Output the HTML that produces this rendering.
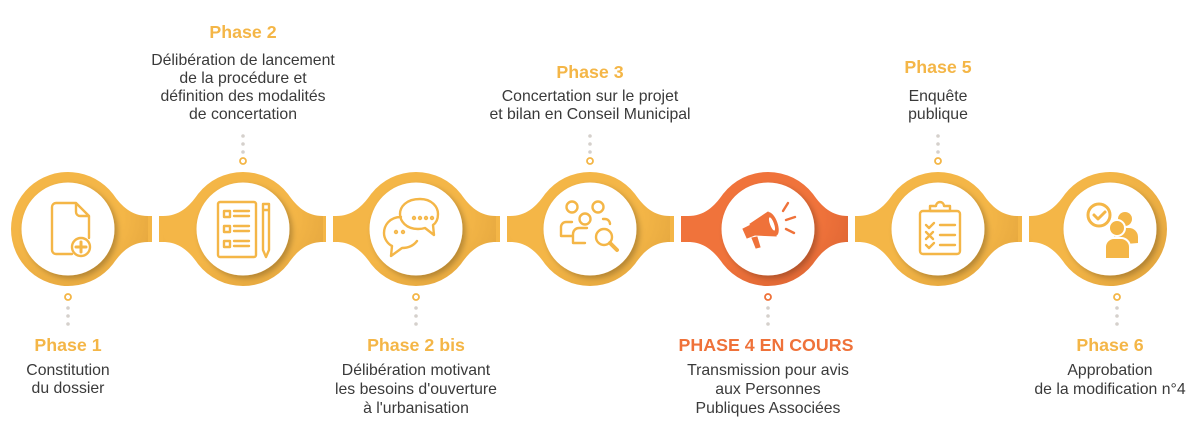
<!DOCTYPE html>
<html><head><meta charset="utf-8"><style>
html,body{margin:0;padding:0;background:#fff;width:1200px;height:437px;overflow:hidden}
svg{display:block}
text{font-family:"Liberation Sans",sans-serif}
.t{font-size:17.8px;font-weight:bold;fill:#F4B647;text-anchor:middle}
.o{fill:#EF723A}
.b{font-size:15.8px;fill:#3a3a3a;text-anchor:middle}
</style></head><body>
<svg width="1200" height="437" viewBox="0 0 1200 437">
<defs>
<path id="mid" d="M -80,-13 C -64,-13 -54,-22 -45,-35 A57,57 0 0 1 45,-35 C 54,-22 64,-13 80,-13 L 80,13 C 64,13 54,22 45,35 A57,57 0 0 1 -45,35 C -54,22 -64,13 -80,13 Z"/>
<path id="first" d="M 45,-35 C 54,-22 64,-13 80,-13 L 80,13 C 64,13 54,22 45,35 A57,57 0 1 1 45,-35 Z"/>
<path id="last" d="M -45,-35 C -54,-22 -64,-13 -80,-13 L -80,13 C -64,13 -54,22 -45,35 A57,57 0 1 0 -45,-35 Z"/>
<filter id="sh" x="-30%" y="-30%" width="160%" height="160%"><feDropShadow dx="3" dy="3" stdDeviation="3" flood-color="#000" flood-opacity="0.25"/></filter>
<radialGradient id="gy" cx="0.4" cy="0.4" r="0.7"><stop offset="0.6" stop-color="#F4B647"/><stop offset="1" stop-color="#E4A63E"/></radialGradient>
<radialGradient id="go" cx="0.4" cy="0.4" r="0.7"><stop offset="0.6" stop-color="#F0733B"/><stop offset="1" stop-color="#DD6533"/></radialGradient>
</defs>

<g fill="#F4B647">
<rect x="68" y="216" width="84" height="26"/>
<rect x="159" y="216" width="167" height="26"/>
<rect x="333" y="216" width="167" height="26"/>
<rect x="507" y="216" width="167" height="26"/>
<rect x="855" y="216" width="167" height="26"/>
<rect x="1029" y="216" width="81" height="26"/>
</g>
<rect x="681" y="216" width="167" height="26" fill="#F0733B"/>

<g fill="url(#gy)">
<use href="#first" transform="translate(68,229)"/>
<use href="#mid" transform="translate(243,229)"/>
<use href="#mid" transform="translate(416,229)"/>
<use href="#mid" transform="translate(590,229)"/>
<use href="#mid" transform="translate(938,229)"/>
<use href="#last" transform="translate(1110,229)"/>
</g>
<use href="#mid" transform="translate(768,229)" fill="url(#go)"/>
<g fill="#fff">
<rect x="152" y="200" width="7" height="60"/>
<rect x="326" y="200" width="7" height="60"/>
<rect x="500" y="200" width="7" height="60"/>
<rect x="674" y="200" width="7" height="60"/>
<rect x="848" y="200" width="7" height="60"/>
<rect x="1022" y="200" width="7" height="60"/>
</g>
<g fill="#fff" filter="url(#sh)">
<circle cx="68" cy="229" r="46.5"/><circle cx="243" cy="229" r="46.5"/><circle cx="416" cy="229" r="46.5"/>
<circle cx="590" cy="229" r="46.5"/><circle cx="768" cy="229" r="46.5"/><circle cx="938" cy="229" r="46.5"/><circle cx="1110" cy="229" r="46.5"/>
</g>

<g fill="none" stroke="#F4B647" stroke-width="2.4" stroke-linejoin="round" stroke-linecap="round">
<path d="M76,203 H56 a4,4 0 0 0 -4,4 V250 a4,4 0 0 0 4,4 H72 M76,203 L89,216 V238 M76,203 V212 a4,4 0 0 0 4,4 H89"/>
<circle cx="81" cy="247" r="9"/><path d="M81,242 V252 M76,247 H86" stroke-width="3"/>
<rect x="218" y="202" width="38" height="55" rx="2"/>
<rect x="224" y="211" width="6" height="6"/><rect x="224" y="226" width="6" height="6"/><rect x="224" y="241" width="6" height="6"/>
<path d="M234,211 H249 M234,216 H249 M234,226 H249 M234,231 H249 M234,241 H249 M234,246 H249"/>
<path d="M263,204 h6 v46 l-3,7 l-3,-7 z M263,210 h6"/>
<path d="M401,217 c-12,0 -17,9 -17,16 c0,6 4,11 8,13 l-1,10 l11,-8 c7,0 12,-3 15,-7"/>
<path d="M420,199 c12,0 18,8 18,15 c0,5 -2,9 -5,11 l1,10 l-9,-7 c-3,1 -5,1 -7,1 c-12,0 -18,-8 -18,-15 c0,-7 6,-15 20,-15z"/>
<g stroke-width="1.8"><circle cx="414" cy="218" r="1.3"/><circle cx="420" cy="218" r="1.3"/><circle cx="426" cy="218" r="1.3"/><circle cx="432" cy="218" r="1.3"/><circle cx="396" cy="232" r="1.3"/><circle cx="403" cy="232" r="1.3"/></g>
<circle cx="572" cy="207" r="5.5"/><circle cx="598" cy="207" r="5.5"/><circle cx="585" cy="219" r="5.5"/>
<path d="M561,236 v-9 a5,5 0 0 1 5,-5 h6 M610,224 a5,5 0 0 0 -5,-5 h-2 M573,243 v-9 a6,6 0 0 1 6,-6 h8 M561,236 h12 M573,243 h12"/>
<circle cx="604" cy="237" r="8"/><path d="M610,243 l7,7" stroke-width="4"/>
<rect x="920" y="211" width="40" height="43" rx="3"/>
<path d="M930,211 v-5 h6 a4,4 0 0 1 8,0 h6 v5 z"/>
<path d="M926,225 l3,3 l5,-5 M926,232 l7,7 M933,232 l-7,7 M926,245 l3,3 l5,-5 M940,225 h15 M940,235 h15 M940,245 h15"/>
<circle cx="1099" cy="215" r="11" stroke-width="3"/><path d="M1094,215 l4,4 l7,-7" stroke-width="3"/>
</g>
<g fill="#F4B647">
<circle cx="1125" cy="219" r="7"/><path d="M1114,245 v-8 a9,9 0 0 1 9,-9 h6 a9,9 0 0 1 9,9 v6 z"/>
<circle cx="1117" cy="228" r="8" stroke="#fff" stroke-width="2"/><path d="M1105,259 v-12 a9,9 0 0 1 9,-9 h7 a9,9 0 0 1 9,9 v12 z" stroke="#fff" stroke-width="2"/>
</g>
<g fill="#EF723A" stroke="#EF723A" stroke-linecap="round">
<path d="M750,224 l18,-12 l8,24 l-21,-1 z"/>
<ellipse cx="772" cy="224" rx="5" ry="12" transform="rotate(-20 772 224)"/>
<path d="M743,229 l8,-4 l4,10 l-8,3 z"/>
<path d="M752,238 l5,-1 l3,10 l-4,1 z"/>
<path d="M783,211 l5,-8 M786,220 l9,-3 M786,229 l8,4" stroke-width="2.4" fill="none"/>
</g>
<g fill="#fff"><ellipse cx="772" cy="224" rx="2" ry="7" transform="rotate(-20 772 224)"/></g>

<g fill="none" stroke-width="1.8">
<g stroke="#F4B647"><circle cx="68" cy="297" r="3"/><circle cx="243" cy="161" r="3"/><circle cx="416" cy="297" r="3"/><circle cx="590" cy="161" r="3"/><circle cx="938" cy="161" r="3"/><circle cx="1117" cy="297" r="3"/></g>
<circle cx="768" cy="297" r="3" stroke="#EF723A"/>
</g>
<g fill="#d5d0cc">
<circle cx="68" cy="308" r="1.8"/><circle cx="68" cy="316" r="1.8"/><circle cx="68" cy="324" r="1.8"/>
<circle cx="243" cy="136" r="1.8"/><circle cx="243" cy="144" r="1.8"/><circle cx="243" cy="152" r="1.8"/>
<circle cx="416" cy="308" r="1.8"/><circle cx="416" cy="316" r="1.8"/><circle cx="416" cy="324" r="1.8"/>
<circle cx="590" cy="136" r="1.8"/><circle cx="590" cy="144" r="1.8"/><circle cx="590" cy="152" r="1.8"/>
<circle cx="768" cy="308" r="1.8"/><circle cx="768" cy="316" r="1.8"/><circle cx="768" cy="324" r="1.8"/>
<circle cx="938" cy="136" r="1.8"/><circle cx="938" cy="144" r="1.8"/><circle cx="938" cy="152" r="1.8"/>
<circle cx="1117" cy="308" r="1.8"/><circle cx="1117" cy="316" r="1.8"/><circle cx="1117" cy="324" r="1.8"/>
</g>

<text class="t" x="243" y="38">Phase 2</text>
<text class="b" x="243" y="65">Délibération de lancement</text>
<text class="b" x="243" y="83">de la procédure et</text>
<text class="b" x="243" y="101">définition des modalités</text>
<text class="b" x="243" y="119">de concertation</text>

<text class="t" x="590" y="78">Phase 3</text>
<text class="b" x="590" y="101">Concertation sur le projet</text>
<text class="b" x="590" y="119">et bilan en Conseil Municipal</text>

<text class="t" x="938" y="73">Phase 5</text>
<text class="b" x="938" y="101">Enquête</text>
<text class="b" x="938" y="119">publique</text>

<text class="t" x="68" y="351">Phase 1</text>
<text class="b" x="68" y="375">Constitution</text>
<text class="b" x="68" y="393">du dossier</text>

<text class="t" x="416" y="351">Phase 2 bis</text>
<text class="b" x="416" y="375">Délibération motivant</text>
<text class="b" x="416" y="394">les besoins d'ouverture</text>
<text class="b" x="416" y="413">à l'urbanisation</text>

<text class="t o" x="766" y="351">PHASE 4 EN COURS</text>
<text class="b" x="768" y="375">Transmission pour avis</text>
<text class="b" x="768" y="394">aux Personnes</text>
<text class="b" x="768" y="413">Publiques Associées</text>

<text class="t" x="1110" y="351">Phase 6</text>
<text class="b" x="1110" y="375">Approbation</text>
<text class="b" x="1110" y="394">de la modification n°4</text>
</svg>
</body></html>
